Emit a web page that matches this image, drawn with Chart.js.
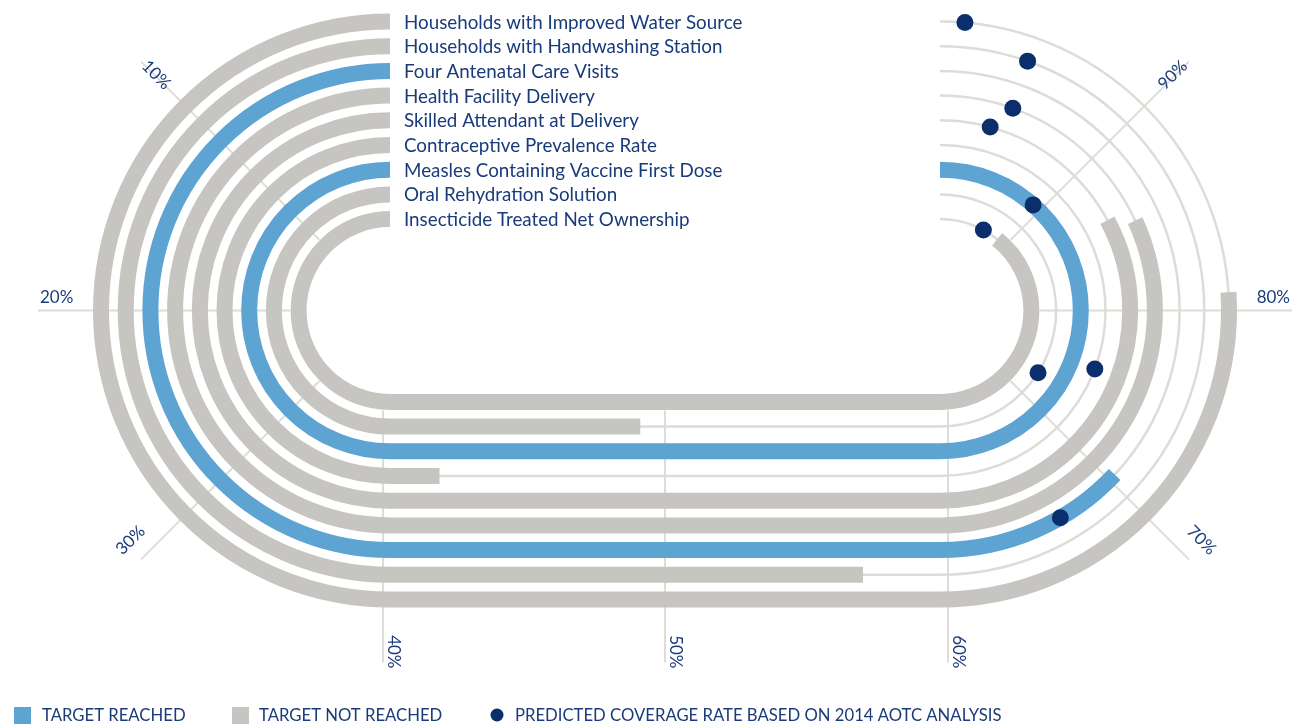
<!DOCTYPE html>
<html>
<head>
<meta charset="utf-8">
<script src="https://cdn.jsdelivr.net/npm/chart.js@4.4.1/dist/chart.umd.min.js"></script>
<style>
  html, body { margin: 0; padding: 0; background: #ffffff; }
  #wrap { position: relative; width: 1292px; height: 725px; }
</style>
</head>
<body>
<div id="wrap"><canvas id="chart"></canvas></div>
<script>
// ---------------- DATA ----------------
const categories = [
  'Households with Improved Water Source',
  'Households with Handwashing Station',
  'Four Antenatal Care Visits',
  'Health Facility Delivery',
  'Skilled Attendant at Delivery',
  'Contraceptive Prevalence Rate',
  'Measles Containing Vaccine First Dose',
  'Oral Rehydration Solution',
  'Insecticide Treated Net Ownership'
];
const coverage = [80.8, 57.2, 70.4, 85.5, 86.3, 41.8, 100, 49.1, 91.4];
const predicted = [98.9, 95.7, 66.7, 95.6, 96.6, 75.4, 90.8, 72.8, 93.7];
const targetReached = [false, false, true, false, false, false, true, false, false];
const tickValues = [10, 20, 30, 40, 50, 60, 70, 80, 90];
const tickLabels = ['10%', '20%', '30%', '40%', '50%', '60%', '70%', '80%', '90%'];
const legendLabels = ['TARGET REACHED', 'TARGET NOT REACHED', 'PREDICTED COVERAGE RATE BASED ON 2014 AOTC ANALYSIS'];

// ---------------- STYLE / LAYOUT ----------------
const COLORS = {
  reached: '#5ea4d2',
  notReached: '#c6c5c1',
  dot: '#0b2f6d',
  text: '#1a3b7a',
  guide: '#dddcd6'
};
const GEO = { cxL: 390, cxR: 940, cy: 310.5, r0: 289, step: 24.7, barW: 16, guideIn: 100, guideOut: 352 };
const TICK_NUDGE = { 40: -7, 60: 8 };
// small per-label text nudges (px) to follow the original placement
const LABEL_SHIFT = { 10: [-4, 9], 20: [2, -3], 30: [-15, 0], 40: [0, 6], 50: [0, 6], 60: [0, 6], 70: [17, 0], 80: [-2, -3], 90: [3, 9] };
const FONT = 'Lato, "Open Sans", sans-serif';

function radiusOf(i) { return GEO.r0 - i * GEO.step; }

// position on the racetrack (design units) for a percentage value
function trackPoint(r, pct) {
  if (pct <= 40) {
    const t = pct / 40 * Math.PI;
    return { x: GEO.cxL - r * Math.sin(t), y: GEO.cy - r * Math.cos(t), nx: -Math.sin(t), ny: -Math.cos(t) };
  }
  if (pct <= 60) {
    return { x: GEO.cxL + (pct - 40) / 20 * (GEO.cxR - GEO.cxL), y: GEO.cy + r, nx: 0, ny: 1 };
  }
  const f = (pct - 60) / 40 * Math.PI;
  return { x: GEO.cxR + r * Math.sin(f), y: GEO.cy + r * Math.cos(f), nx: Math.sin(f), ny: Math.cos(f) };
}

const dotPoints = predicted.map((v, i) => {
  const p = trackPoint(radiusOf(i), v);
  return { x: p.x, y: p.y };
});

function mapper(chart) {
  const xs = chart.scales.x, ys = chart.scales.y;
  const X = g => xs.getPixelForValue(g);
  const Y = g => ys.getPixelForValue(g);
  const kx = Math.abs(X(1) - X(0)), ky = Math.abs(Y(1) - Y(0));
  return { X, Y, kx, ky };
}

function traceTrack(ctx, m, r, v) {
  const rx = r * m.kx, ry = r * m.ky;
  ctx.beginPath();
  ctx.moveTo(m.X(GEO.cxL), m.Y(GEO.cy - r));
  const t = Math.min(v, 40) / 40 * Math.PI;
  ctx.ellipse(m.X(GEO.cxL), m.Y(GEO.cy), rx, ry, 0, -Math.PI / 2, -Math.PI / 2 - t, true);
  if (v > 40) {
    const p = trackPoint(r, Math.min(v, 60));
    ctx.lineTo(m.X(p.x), m.Y(p.y));
  }
  if (v > 60) {
    const f = (Math.min(v, 100) - 60) / 40 * Math.PI;
    ctx.ellipse(m.X(GEO.cxR), m.Y(GEO.cy), rx, ry, 0, Math.PI / 2, Math.PI / 2 - f, true);
  }
  ctx.stroke();
}

const racetrackPlugin = {
  id: 'racetrack',
  beforeDatasetsDraw(chart) {
    const ctx = chart.ctx;
    const m = mapper(chart);
    ctx.save();
    // thin full-length guide tracks
    ctx.strokeStyle = COLORS.guide;
    ctx.lineWidth = 2.5;
    ctx.lineCap = 'butt';
    categories.forEach((c, i) => traceTrack(ctx, m, radiusOf(i), 100));
    // radial guide lines
    ctx.lineWidth = 2;
    tickValues.forEach(t => {
      const a = trackPoint(GEO.guideIn, t), b = trackPoint(GEO.guideOut, t);
      const dx = TICK_NUDGE[t] || 0;
      ctx.beginPath();
      ctx.moveTo(m.X(a.x + dx), m.Y(a.y));
      ctx.lineTo(m.X(b.x + dx), m.Y(b.y));
      ctx.stroke();
    });
    // coverage bars
    ctx.lineWidth = GEO.barW;
    coverage.forEach((v, i) => {
      ctx.strokeStyle = targetReached[i] ? COLORS.reached : COLORS.notReached;
      traceTrack(ctx, m, radiusOf(i), v);
    });
    ctx.restore();
  },
  afterDraw(chart) {
    const ctx = chart.ctx;
    const m = mapper(chart);
    ctx.save();
    ctx.fillStyle = COLORS.text;
    // category labels
    ctx.font = '18.8px ' + FONT;
    ctx.textAlign = 'left';
    ctx.textBaseline = 'middle';
    categories.forEach((c, i) => {
      ctx.fillText(c, m.X(GEO.cxL + 14), m.Y(GEO.cy - radiusOf(i)) + 1);
    });
    // tick labels
    ctx.font = '17px ' + FONT;
    ctx.textBaseline = 'alphabetic';
    tickValues.forEach((t, k) => {
      const b = trackPoint(GEO.guideOut, t);
      const dx = TICK_NUDGE[t] || 0;
      const sh = LABEL_SHIFT[t] || [0, 0];
      let ang = Math.atan2(b.ny, b.nx);
      let flipped = false;
      if (ang > Math.PI / 2 + 1e-6) { ang -= Math.PI; flipped = true; }
      else if (ang < -Math.PI / 2 - 1e-6) { ang += Math.PI; flipped = true; }
      ctx.save();
      ctx.translate(m.X(b.x + dx) + sh[0], m.Y(b.y) + sh[1]);
      ctx.rotate(ang);
      ctx.textAlign = flipped ? 'left' : 'right';
      ctx.fillText(tickLabels[k], 0, -5);
      ctx.restore();
    });
    // legend
    const ly = 715;
    ctx.font = '16.7px ' + FONT;
    ctx.textAlign = 'left';
    ctx.textBaseline = 'middle';
    ctx.fillStyle = COLORS.reached;
    ctx.fillRect(14, ly - 8, 17, 17);
    ctx.fillStyle = COLORS.notReached;
    ctx.fillRect(232, ly - 8, 17, 17);
    ctx.fillStyle = COLORS.dot;
    ctx.beginPath();
    ctx.arc(497, ly, 6.5, 0, Math.PI * 2);
    ctx.fill();
    ctx.fillStyle = COLORS.text;
    ctx.fillText(legendLabels[0], 42, ly + 1);
    ctx.fillText(legendLabels[1], 259, ly + 1);
    ctx.fillText(legendLabels[2], 515, ly + 1);
    ctx.restore();
  }
};

new Chart(document.getElementById('chart'), {
  type: 'scatter',
  data: {
    datasets: [{
      label: legendLabels[2],
      data: dotPoints,
      pointRadius: 8.5,
      pointHoverRadius: 8.5,
      backgroundColor: COLORS.dot,
      borderWidth: 0,
      clip: false
    }]
  },
  options: {
    responsive: true,
    maintainAspectRatio: false,
    animation: false,
    layout: { padding: 0, autoPadding: false },
    plugins: { legend: { display: false }, tooltip: { enabled: false } },
    scales: {
      x: { type: 'linear', min: 0, max: 1292, display: false },
      y: { type: 'linear', min: 0, max: 725, reverse: true, display: false }
    }
  },
  plugins: [racetrackPlugin]
});
</script>
</body>
</html>
